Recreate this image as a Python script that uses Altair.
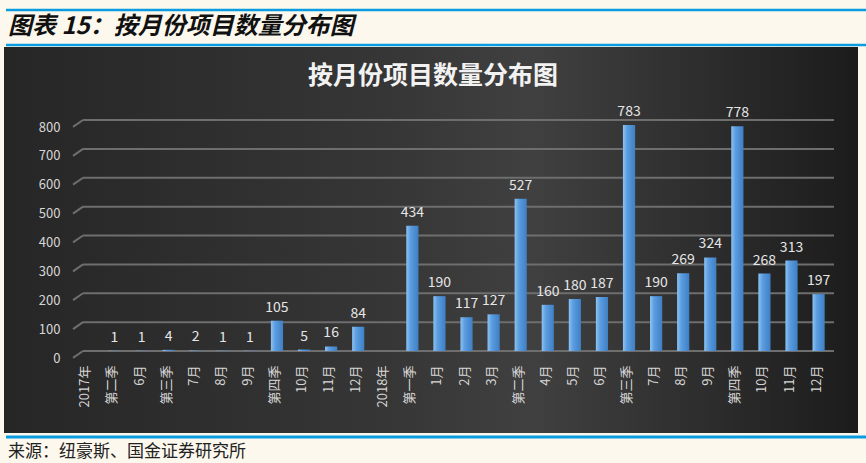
import altair as alt
import pandas as pd

labels = ["2017年", "第二季", "6月", "第三季", "7月", "8月", "9月", "第四季", "10月", "11月", "12月",
          "2018年", "第一季", "1月", "2月", "3月", "第二季", "4月", "5月", "6月", "第三季",
          "7月", "8月", "9月", "第四季", "10月", "11月", "12月"]
values = [None, 1, 1, 4, 2, 1, 1, 105, 5, 16, 84,
          None, 434, 190, 117, 127, 527, 160, 180, 187, 783,
          190, 269, 324, 778, 268, 313, 197]
grid_values = [0, 100, 200, 300, 400, 500, 600, 700, 800]

header = "图表 15：按月份项目数量分布图"
title = "按月份项目数量分布图"
source = "来源：纽豪斯、国金证券研究所"

FONT = "Noto Sans CJK SC"

idx = list(range(len(labels)))
df = pd.DataFrame({"idx": idx, "label": labels, "value": values})
grid_df = pd.DataFrame({"g": grid_values})
grid_df["g0"] = grid_df["g"] - 24

label_arr = "[" + ",".join("'" + l + "'" for l in labels) + "]"

x_scale = alt.Scale(domain=idx, paddingInner=0.55, paddingOuter=0.27)
x_axis = alt.Axis(title=None, labelAngle=-90, labelExpr=label_arr + "[datum.value]",
                  labelColor="#d6d6d6", labelFont=FONT, labelFontSize=13,
                  ticks=False, domain=False, labelPadding=14, grid=False, zindex=2)
y_scale = alt.Scale(domain=[0, 800], nice=False, zero=True)
y_axis = alt.Axis(title=None, grid=False, ticks=False, domain=False,
                  values=grid_values, labelColor="#d6d6d6", labelFont=FONT,
                  labelFontSize=13, labelPadding=12, labelOffset=7, zindex=2)

one = alt.Data(values=[{}])

panel = alt.Chart(one).mark_rect(
    color=alt.Gradient(gradient="linear", x1=0, x2=1, y1=0, y2=0,
                       stops=[alt.GradientStop(color="#262626", offset=0),
                              alt.GradientStop(color="#363636", offset=0.45),
                              alt.GradientStop(color="#404040", offset=0.62),
                              alt.GradientStop(color="#1c1c1c", offset=1)])
).encode(x=alt.value(-68), x2=alt.value(786), y=alt.value(-73), y2=alt.value(313))

blue_lines = alt.Chart(alt.Data(values=[{"y": -110, "w": 2.5}, {"y": -75, "w": 2.5}, {"y": 317, "w": 3}])).mark_rule(
    color="#0a9be0"
).encode(x=alt.value(-66), x2=alt.value(794), y=alt.Y("y:Q", scale=None), strokeWidth=alt.StrokeWidth("w:Q", scale=None, legend=None))

header_text = alt.Chart(one).mark_text(
    text=header, font=FONT, fontSize=24, fontWeight="bold", fontStyle="italic",
    align="left", baseline="middle", color="#111111"
).encode(x=alt.value(-64), y=alt.value(-93))

title_text = alt.Chart(one).mark_text(
    text=title, font=FONT, fontSize=25, fontWeight="bold",
    align="center", baseline="middle", color="#f2f2f2"
).encode(x=alt.value(361), y=alt.value(-44))

source_text = alt.Chart(one).mark_text(
    text=source, font=FONT, fontSize=17, align="left", baseline="middle", color="#222222"
).encode(x=alt.value(-64), y=alt.value(332))

grid_lines = alt.Chart(grid_df).mark_rule(color="#6e6e6e", strokeWidth=2).encode(
    y=alt.Y("g:Q", scale=y_scale, axis=y_axis),
    x=alt.value(11), x2=alt.value(762)
)
grid_diag = alt.Chart(grid_df).mark_rule(color="#6e6e6e", strokeWidth=2).encode(
    y=alt.Y("g0:Q", scale=y_scale, axis=y_axis), y2="g:Q", x=alt.value(1), x2=alt.value(11)
)

bars = alt.Chart(df).transform_filter("datum.value != null").mark_bar(
    xOffset=2,
    color=alt.Gradient(gradient="linear", x1=0, x2=1, y1=0, y2=0,
                       stops=[alt.GradientStop(color="#8cc3f2", offset=0),
                              alt.GradientStop(color="#5b9de0", offset=0.35),
                              alt.GradientStop(color="#3f7fc4", offset=1)])
).encode(x=alt.X("idx:O", scale=x_scale, axis=x_axis),
         y=alt.Y("value:Q", scale=y_scale, axis=y_axis))

texts = alt.Chart(df).transform_filter("datum.value != null").mark_text(
    font=FONT, fontSize=14, color="#e6e6e6", baseline="bottom", dy=-6, dx=2
).encode(x=alt.X("idx:O", scale=x_scale, axis=x_axis),
         y=alt.Y("value:Q", scale=y_scale, axis=y_axis), text="value:Q")

chart = alt.layer(panel, blue_lines, header_text, title_text, source_text,
                  grid_lines, grid_diag, bars, texts).properties(
    width=758, height=231,
    padding={"left": 72, "top": 120, "right": 36, "bottom": 112},
    autosize=alt.AutoSizeParams(type="none"),
    background="#fcf8ee"
).configure_view(stroke=None)

chart.save("out.html", embed_options={"renderer": "svg", "actions": False})
